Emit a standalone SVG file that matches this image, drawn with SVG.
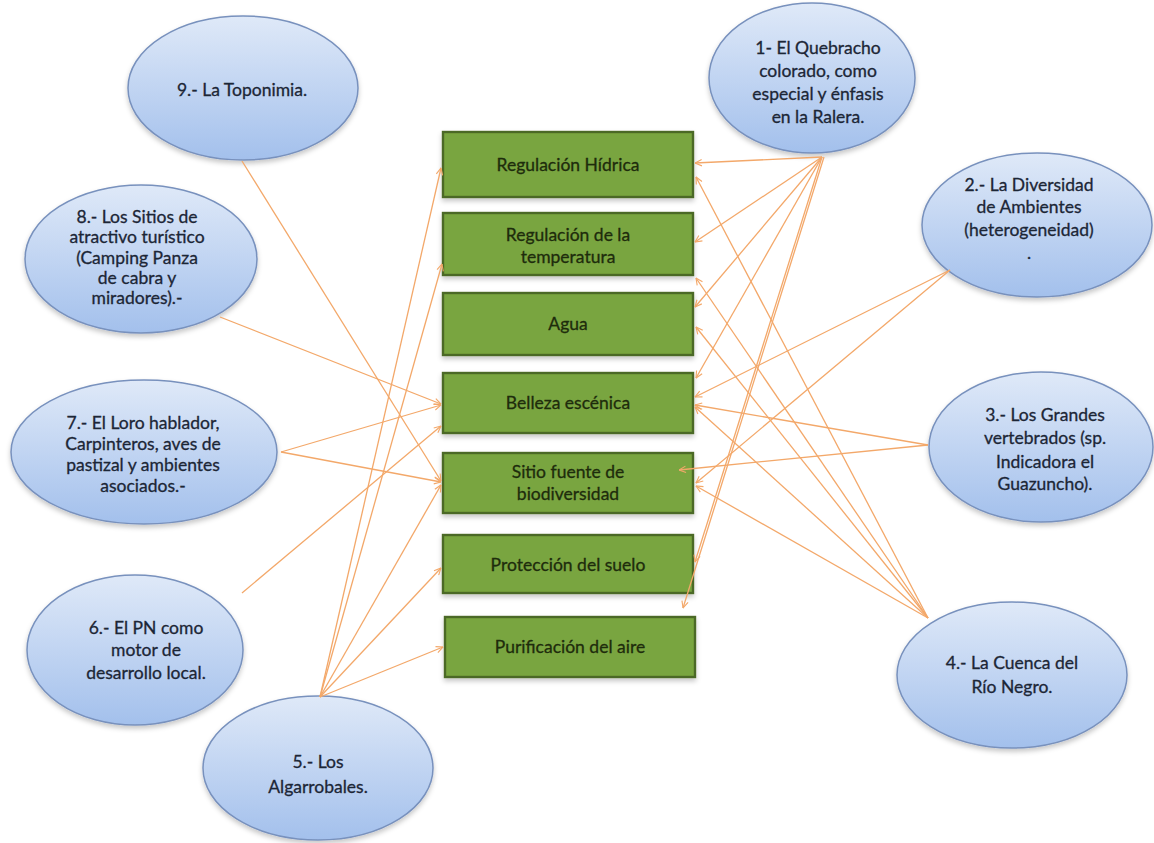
<svg xmlns="http://www.w3.org/2000/svg" width="1154" height="843" viewBox="0 0 1154 843">
<style>
.ell{fill:url(#eg);stroke:#7891bd;stroke-width:1.5;filter:url(#sh)}
.box{fill:#79a53f;stroke:#4b6925;stroke-width:2.4;filter:url(#sh)}
.et{font-family:Lato,"Liberation Sans",sans-serif;font-size:17.5px;fill:#1c2636;stroke:#1c2636;stroke-width:0.3;text-anchor:middle}
.bt{font-family:Lato,"Liberation Sans",sans-serif;font-size:17.5px;fill:#1e2c0c;stroke:#1e2c0c;stroke-width:0.3;text-anchor:middle}
.c{stroke:#f3a86a;stroke-width:1.3;fill:none;marker-end:url(#ar)}
</style>
<defs>
<linearGradient id="eg" x1="0" y1="0" x2="0" y2="1">
<stop offset="0" stop-color="#dfe9f8"/>
<stop offset="1" stop-color="#a3c0ec"/>
</linearGradient>
<filter id="sh" x="-10%" y="-10%" width="120%" height="130%">
<feDropShadow dx="0" dy="3" stdDeviation="2.5" flood-color="#000" flood-opacity="0.22"/>
</filter>
<marker id="ar" viewBox="0 0 10 10" refX="9.5" refY="5" markerWidth="8" markerHeight="8" orient="auto" markerUnits="userSpaceOnUse">
<path d="M1,1 L9.5,5 L1,9" fill="none" stroke="#f3a86a" stroke-width="1.4"/>
</marker>
</defs>
<rect width="1154" height="843" fill="#ffffff"/>

<g id="box1"><rect class="box" x="443" y="132" width="250" height="65"/><text class="bt" x="568" y="171">Regulación Hídrica</text></g>
<g id="box2"><rect class="box" x="443" y="213" width="250" height="62"/><text class="bt" x="568" y="241">Regulación de la</text><text class="bt" x="568" y="263">temperatura</text></g>
<g id="box3"><rect class="box" x="443" y="293" width="250" height="62"/><text class="bt" x="568" y="330">Agua</text></g>
<g id="box4"><rect class="box" x="443" y="373" width="250" height="60"/><text class="bt" x="568" y="409">Belleza escénica</text></g>
<g id="box5"><rect class="box" x="443" y="453" width="250" height="60"/><text class="bt" x="568" y="478">Sitio fuente de</text><text class="bt" x="568" y="500">biodiversidad</text></g>
<g id="box6"><rect class="box" x="443" y="535" width="250" height="58"/><text class="bt" x="568" y="571">Protección del suelo</text></g>
<g id="box7"><rect class="box" x="445" y="617" width="250" height="60"/><text class="bt" x="570" y="653">Purificación del aire</text></g>

<g id="n9"><ellipse class="ell" cx="243" cy="88" rx="115" ry="72"/><text class="et" x="242" y="96">9.- La Toponimia.</text></g>
<g id="n8"><ellipse class="ell" cx="141" cy="259" rx="116" ry="74"/>
<text class="et" x="137" y="223">8.- Los Sitios de</text><text class="et" x="137" y="243">atractivo turístico</text><text class="et" x="137" y="264">(Camping Panza</text><text class="et" x="137" y="284">de cabra y</text><text class="et" x="137" y="304">miradores).-</text></g>
<g id="n7"><ellipse class="ell" cx="144" cy="452" rx="133" ry="72"/>
<text class="et" x="143" y="429">7.- El Loro hablador,</text><text class="et" x="143" y="450">Carpinteros, aves de</text><text class="et" x="143" y="471">pastizal y  ambientes</text><text class="et" x="143" y="492">asociados.-</text></g>
<g id="n6"><ellipse class="ell" cx="135" cy="650" rx="108" ry="75"/>
<text class="et" x="146" y="634">6.- El PN como</text><text class="et" x="146" y="656">motor  de</text><text class="et" x="146" y="679">desarrollo local.</text></g>
<g id="n5"><ellipse class="ell" cx="318" cy="768" rx="115" ry="72"/>
<text class="et" x="318" y="768">5.- Los</text><text class="et" x="318" y="793">Algarrobales.</text></g>

<g id="n1"><ellipse class="ell" cx="812" cy="78" rx="103" ry="75"/>
<text class="et" x="818" y="54">1- El Quebracho</text><text class="et" x="818" y="77">colorado, como</text><text class="et" x="818" y="100">especial y énfasis</text><text class="et" x="818" y="123">en la Ralera.</text></g>
<g id="n2"><ellipse class="ell" cx="1037" cy="225" rx="115" ry="72"/>
<text class="et" x="1029" y="191">2.- La Diversidad</text><text class="et" x="1029" y="213">de Ambientes</text><text class="et" x="1029" y="236">(heterogeneidad)</text><text class="et" x="1029" y="259">.</text></g>
<g id="n3"><ellipse class="ell" cx="1041" cy="447" rx="112" ry="75"/>
<text class="et" x="1045" y="421">3.- Los Grandes</text><text class="et" x="1045" y="444">vertebrados  (sp.</text><text class="et" x="1045" y="468">Indicadora el</text><text class="et" x="1045" y="490">Guazuncho).</text></g>
<g id="n4"><ellipse class="ell" cx="1012" cy="675" rx="115" ry="73"/>
<text class="et" x="1012" y="669">4.- La Cuenca del</text><text class="et" x="1012" y="693">Río Negro.</text></g>

<g id="connectors">
<path class="c" d="M242,161 L441,481"/>
<path class="c" d="M220,317 L441,404"/>
<path class="c" d="M281,452 L441,405"/>
<path class="c" d="M281,452 L441,482"/>
<path class="c" d="M242,593 L441,426"/>
<path class="c" d="M320,697 L441,168"/>
<path class="c" d="M320,697 L442,264"/>
<path class="c" d="M320,697 L441,485"/>
<path class="c" d="M320,697 L441,568"/>
<path class="c" d="M320,697 L443,647"/>
<path class="c" d="M822,157 L695,163"/>
<path class="c" d="M822,157 L695,242"/>
<path class="c" d="M822,157 L695,307"/>
<path class="c" d="M822,157 L696,378"/>
<path class="c" d="M822,157 L695,562"/>
<path class="c" d="M824,157 L683,608"/>
<path class="c" d="M950,270 L695,397"/>
<path class="c" d="M950,270 L696,483"/>
<path class="c" d="M928,445 L695,405"/>
<path class="c" d="M928,445 L679,470"/>
<path class="c" d="M928,618 L696,177"/>
<path class="c" d="M928,618 L696,278"/>
<path class="c" d="M928,618 L696,327"/>
<path class="c" d="M928,618 L695,407"/>
<path class="c" d="M928,618 L696,486"/>
</g>
</svg>
